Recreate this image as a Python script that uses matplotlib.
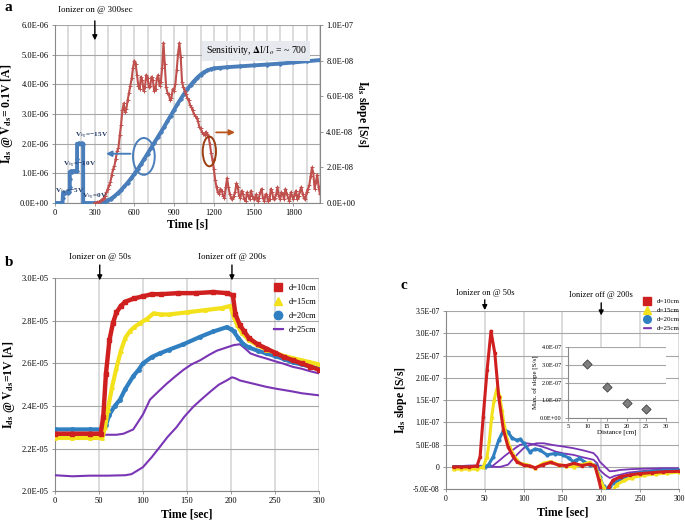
import matplotlib
matplotlib.use("Agg")
import matplotlib.pyplot as plt
from matplotlib.patches import Ellipse
from matplotlib.lines import Line2D
from matplotlib.ticker import FuncFormatter, MultipleLocator
import matplotlib.transforms as mtransforms

plt.rcParams['font.family'] = ['Liberation Serif', 'DejaVu Serif']
plt.rcParams['mathtext.fontset'] = 'stix'

# ---------------- panel a data ----------------
a_blue_t = [0, 10, 20, 30, 40, 50, 58, 60, 62, 70, 80, 90, 100, 110, 113, 113, 113, 120, 130, 140, 150, 160, 168, 168, 168, 175,
            185, 195, 205, 214, 214, 230, 260, 300, 325, 350, 375, 400, 425, 450, 475, 500, 525, 550, 575, 600, 625, 650,
            675, 700, 725, 750, 775, 800, 825, 850, 875, 900, 925, 950, 975, 1000, 1025, 1050, 1075, 1100, 1125, 1150,
            1175, 1200, 1250, 1300, 1400, 1500, 1600, 1700, 1800, 1900, 2000]
a_blue = [0.0, 0.0, 0.0, 0.0, 0.0, 0.0, 0.0, 0.18, 0.33, 0.35, 0.34, 0.36, 0.35, 0.36, 0.55, 0.8, 1.05, 1.07, 1.06, 1.08, 1.07,
          1.08, 1.08, 1.5, 2.0, 2.0, 2.01, 2.0, 2.01, 2.0, 0.0, 0.0, 0.0, 0.0, 0.005, 0.02, 0.05, 0.09, 0.15, 0.23, 0.33, 0.44,
          0.56, 0.69, 0.83, 0.98, 1.14, 1.31, 1.49, 1.67, 1.85, 2.03, 2.21, 2.39, 2.57, 2.76, 2.95, 3.14, 3.33, 3.51, 3.68,
          3.84, 3.98, 4.11, 4.23, 4.33, 4.41, 4.47, 4.51, 4.54, 4.56, 4.58, 4.61, 4.64, 4.67, 4.70, 4.74, 4.78, 4.82]  # x1e-6 A

a_red_t = list(range(300, 2001, 10))
a_red = [0.0, 0.02, 0.05, 0.05, 0.1, 0.15, 0.2, 0.3, 0.4, 0.6,
         0.8, 1.0, 1.2, 1.6, 1.9, 2.1, 2.5, 2.9, 3.1, 3.8,
         4.4, 5.2, 5.6, 5.1, 5.3, 5.8, 6.2, 6.6, 7.0, 7.6,
         8.0, 7.8, 7.2, 6.6, 6.4, 7.1, 6.9, 6.3, 6.5, 7.2,
         7.0, 6.5, 6.6, 7.1, 6.9, 6.3, 6.4, 7.0, 7.2, 6.6,
         6.8, 7.6, 9.0, 7.8, 6.5, 6.2, 6.1, 5.8, 5.9, 6.4,
         6.3, 6.7, 7.5, 8.4, 9.0, 8.2, 6.8, 6.5, 6.3, 6.1,
         5.9, 5.8, 5.5, 5.4, 5.2, 5.0, 4.9, 4.8, 4.6, 4.3,
         4.2, 4.0, 3.9, 3.8, 4.0, 3.9, 3.7, 3.3, 2.8, 2.4,
         1.9, 1.3, 0.9, 0.6, 0.5, 0.8, 0.7, 0.4, 0.3, 0.9,
         1.4, 0.9, 0.5, 0.3, 0.2, 0.4, 0.6, 1.1, 0.9, 0.4,
         0.3, 0.7, 0.5, 0.2, 0.1, 0.6, 0.4, 0.2, 0.7, 0.4,
         0.2, 0.3, 0.5, 0.1, 0.3, 0.6, 0.8, 0.3, 0.1, 0.5,
         0.4, 0.1, 0.2, 0.8, 0.6, 0.2, 0.3, 0.5, 0.9, 0.4,
         0.2, 0.6, 0.5, 0.2, 0.8, 0.5, 0.3, 0.1, 0.6, 0.4,
         0.2, 0.5, 0.7, 0.2, 0.4, 0.7, 0.9, 0.5, 0.3, 0.2,
         0.6, 0.8, 1.0, 1.5, 2.0, 1.7, 0.8, 1.2, 1.6, 0.9,
         0.5]  # x1e-8 S/s

# ---------------- panel b data ----------------
labels = ["d=10cm", "d=15cm", "d=20cm", "d=25cm"]
colors = ["#d01f1f", "#f3e11c", "#2f7fc1", "#7a35b5"]

b_red_t = [0, 20, 40, 52, 55, 58, 62, 66, 70, 75, 80, 90, 100, 110, 120, 140, 160, 180, 195, 202, 205, 210, 215, 220,
           230, 240, 250, 260, 270, 280, 290, 300]
b_red = [2.27, 2.27, 2.27, 2.27, 2.35, 2.55, 2.71, 2.79, 2.84, 2.87, 2.89, 2.905, 2.915, 2.925, 2.925, 2.93, 2.93,
         2.935, 2.93, 2.92, 2.83, 2.78, 2.75, 2.72, 2.69, 2.67, 2.65, 2.63, 2.615, 2.60, 2.585, 2.57]
b_yel_t = [0, 20, 40, 54, 57, 60, 65, 70, 75, 80, 85, 90, 97, 105, 112, 120, 130, 150, 170, 190, 199, 203, 207, 212,
           220, 230, 240, 250, 260, 270, 280, 290, 300]
b_yel = [2.25, 2.25, 2.25, 2.25, 2.3, 2.38, 2.49, 2.58, 2.66, 2.72, 2.75, 2.77, 2.79, 2.81, 2.835, 2.83, 2.83, 2.84,
         2.85, 2.86, 2.87, 2.82, 2.78, 2.745, 2.71, 2.685, 2.665, 2.65, 2.635, 2.625, 2.615, 2.605, 2.595]
b_blu_t = [0, 20, 40, 54, 58, 62, 68, 74, 80, 89, 95, 100, 110, 119, 130, 146, 165, 180, 195, 200, 203, 208, 214, 220,
           230, 240, 250, 260, 270, 280, 290, 300]
b_blu = [2.29, 2.29, 2.29, 2.29, 2.31, 2.36, 2.40, 2.43, 2.48, 2.54, 2.57, 2.60, 2.63, 2.647, 2.665, 2.69, 2.725,
         2.75, 2.77, 2.76, 2.75, 2.72, 2.69, 2.675, 2.66, 2.647, 2.635, 2.62, 2.605, 2.595, 2.585, 2.575]
b_pur1_t = [0, 20, 40, 55, 70, 78, 89, 100, 108, 118, 127, 137, 146, 155, 165, 175, 184, 195, 203, 210, 216, 222, 230,
            240, 250, 260, 270, 280, 290, 300]
b_pur1 = [2.26, 2.26, 2.26, 2.265, 2.265, 2.27, 2.29, 2.36, 2.43, 2.47, 2.505, 2.54, 2.57, 2.595, 2.615, 2.64, 2.66,
          2.675, 2.686, 2.69, 2.67, 2.647, 2.635, 2.623, 2.61, 2.598, 2.584, 2.575, 2.563, 2.553]
b_pur2_t = [0, 20, 40, 60, 80, 87, 95, 100, 110, 119, 128, 138, 147, 157, 166, 176, 186, 195, 201, 205, 210, 220, 230,
            240, 250, 260, 270, 280, 290, 300]
b_pur2 = [2.075, 2.07, 2.073, 2.073, 2.075, 2.08, 2.1, 2.113, 2.16, 2.207, 2.255, 2.30, 2.35, 2.396, 2.43, 2.466,
          2.50, 2.52, 2.535, 2.53, 2.52, 2.51, 2.50, 2.49, 2.482, 2.475, 2.468, 2.46, 2.455, 2.45]

# ---------------- panel c data ----------------
c_red_t = [10, 20, 30, 40, 44, 48, 53, 58, 63, 68, 74, 80, 86, 91, 100, 108, 115, 125, 135, 145, 155, 165, 175, 185,
           192, 197, 201, 205, 210, 215, 225, 237, 250, 265, 280, 300]
c_red = [0.0, 0.0, 0.0, 0.02, 0.23, 1.13, 2.17, 3.05, 2.55, 1.57, 0.83, 0.45, 0.25, 0.12, 0.04, 0.02, -0.02, 0.05, 0.1,
         0.04, 0.03, 0.08, 0.03, 0.06, 0.02, -0.3, -0.6, -0.65, -0.45, -0.3, -0.22, -0.18, -0.15, -0.13, -0.11, -0.1]
c_yel_t = [10, 20, 30, 40, 48, 53, 56, 59, 62, 66, 69, 72, 75, 78, 82, 87, 95, 105, 115, 125, 135, 145, 155, 165, 175,
           185, 192, 197, 203, 208, 213, 220, 230, 240, 255, 270, 285, 300]
c_yel = [-0.05, -0.05, -0.05, -0.05, 0.0, 0.23, 0.6, 1.13, 1.5, 1.78, 1.6, 1.28, 0.95, 0.68, 0.45, 0.27, 0.08, 0.05,
         -0.03, 0.08, 0.12, 0.05, 0.02, 0.0, 0.05, 0.1, 0.02, -0.2, -0.45, -0.62, -0.6, -0.4, -0.3, -0.24, -0.19, -0.16,
         -0.14, -0.12]
c_blu_t = [10, 20, 30, 40, 50, 55, 61, 68, 75, 80, 85, 91, 96, 100, 108, 115, 121, 130, 140, 151, 158, 164, 168, 172,
           178, 185, 192, 198, 203, 207, 211, 215, 225, 237, 250, 265, 280, 300]
c_blu = [0.0, 0.0, 0.0, 0.0, 0.0, 0.05, 0.23, 0.6, 0.85, 0.78, 0.65, 0.6, 0.62, 0.53, 0.34, 0.4, 0.38, 0.27, 0.3, 0.27,
         0.2, 0.12, 0.15, 0.19, 0.12, 0.04, 0.04, -0.22, -0.44, -0.5, -0.42, -0.37, -0.28, -0.18, -0.13, -0.1, -0.08,
         -0.07]
c_pur1_t = [10, 20, 30, 40, 50, 60, 70, 76, 83, 90, 95, 104, 112, 121, 130, 142, 152, 164, 175, 185, 190, 195, 198, 205,
            211, 218, 224, 235, 250, 270, 300]
c_pur1 = [0.02, 0.02, 0.03, 0.03, 0.02, 0.02, 0.16, 0.25, 0.34, 0.43, 0.49, 0.53, 0.51, 0.47, 0.42, 0.34, 0.3, 0.27,
          0.22, 0.18, 0.16, 0.08, -0.07, -0.18, -0.25, -0.2, -0.18, -0.13, -0.1, -0.07, -0.05]
c_pur2_t = [10, 20, 30, 40, 50, 60, 70, 80, 87, 93, 100, 108, 117, 126, 138, 150, 164, 177, 190, 195, 198, 205, 211,
            218, 224, 240, 260, 280, 300]
c_pur2 = [0.0, 0.0, 0.0, 0.0, 0.0, 0.0, 0.0, 0.05, 0.19, 0.3, 0.42, 0.49, 0.53, 0.53, 0.49, 0.46, 0.42, 0.37, 0.31,
          0.22, 0.12, 0.0, -0.1, -0.09, -0.07, -0.05, -0.04, -0.03, -0.03]

inset_dist = [10, 15, 20, 25]
inset_max = [3.05, 1.75, 0.85, 0.52]  # x1e-7

# ---------------- helpers ----------------
sci = FuncFormatter(lambda v, p: f"{v:.1E}")
sci_c = FuncFormatter(lambda v, p: "0" if abs(v) < 1e-12 else f"{v:.1E}")
GRID_H = "#a6a6a6"
GRID_V = "#dcdcdc"


def style_axes(ax, fs=6):
    for s in ["top", "right"]:
        ax.spines[s].set_visible(False)
    for s in ["left", "bottom"]:
        ax.spines[s].set_color("#888888")
        ax.spines[s].set_linewidth(0.8)
    ax.tick_params(labelsize=fs, length=2.5, width=0.6, color="#888888", pad=2)
    ax.grid(True, axis="y", color=GRID_H, lw=0.8)
    ax.grid(True, axis="x", which="both", color=GRID_V, lw=1.4)
    ax.set_axisbelow(True)


def ionizer(ax, x, text, ty, y0, y1, fs=6.5):
    tr = mtransforms.blended_transform_factory(ax.transData, ax.transAxes)
    ax.text(x, ty, text, transform=tr, ha="center", va="center", fontsize=fs)
    ax.annotate("", xy=(x, y1), xytext=(x, y0), xycoords=tr, textcoords=tr,
                arrowprops=dict(arrowstyle="-|>", color="k", lw=1.0, mutation_scale=7), annotation_clip=False)


fig = plt.figure(figsize=(6.85, 5.22), dpi=100)

# ================= panel a =================
ax1 = fig.add_axes([0.080, 0.611, 0.387, 0.341])
style_axes(ax1)
blue_a = "#4a7ebb"
red_a = "#c0504d"
ax1.plot(a_blue_t, [v * 1e-6 for v in a_blue], color=blue_a, lw=2.8, marker="D", ms=1.8, zorder=3)
ax1.set_xlim(0, 2000)
ax1.set_ylim(0, 6e-6)
ax1.xaxis.set_major_locator(MultipleLocator(300))
ax1.xaxis.set_minor_locator(MultipleLocator(100))
ax1.tick_params(axis="x", which="minor", length=0)
ax1.yaxis.set_major_locator(MultipleLocator(1e-6))
ax1.yaxis.set_major_formatter(sci)
ax1.set_xlabel("Time [s]", fontsize=8.5, fontweight="bold", labelpad=1)
ax1.set_ylabel(r"$\mathbf{I_{ds}}$ @ $\mathbf{V_{ds}}$= 0.1V [A]", fontsize=8.5, fontweight="bold", labelpad=3)

ax2 = ax1.twinx()
ax2.plot(a_red_t, [v * 1e-8 for v in a_red], color=red_a, lw=1.5, marker="+", ms=2.8, mew=0.7, zorder=2)
ax2.set_ylim(0, 1e-7)
ax2.yaxis.set_major_locator(MultipleLocator(2e-8))
ax2.yaxis.set_major_formatter(sci)
for s in ["top", "left", "bottom"]:
    ax2.spines[s].set_visible(False)
ax2.spines["right"].set_color("#888888")
ax2.spines["right"].set_linewidth(0.8)
ax2.tick_params(labelsize=6, length=2.5, width=0.6, color="#888888", pad=2)
ax2.set_ylabel(r"$\mathbf{I_{ds}}$ slope [S/s]", fontsize=8.5, fontweight="bold", rotation=270, labelpad=11)

ax2.add_patch(Ellipse((672, 2.62e-8), 164, 2.07e-8, fill=False, edgecolor=blue_a, lw=1.4, zorder=5))
ax2.annotate("", xy=(365, 2.77e-8), xytext=(592, 2.77e-8),
             arrowprops=dict(arrowstyle="-|>", color=blue_a, lw=1.4, mutation_scale=8), zorder=5)
ax2.add_patch(Ellipse((1166, 2.9e-8), 100, 1.67e-8, fill=False, edgecolor="#9c3d12", lw=1.4, zorder=5))
ax2.annotate("", xy=(1380, 3.97e-8), xytext=(1196, 3.97e-8),
             arrowprops=dict(arrowstyle="-|>", color="#b8541c", lw=1.3, mutation_scale=8), zorder=5)
ax2.text(1520, 8.55e-8, r"Sensitivity, $\mathbf{\Delta}$I/I$_o$ = ~ 700", ha="center", va="center", fontsize=7,
         bbox=dict(facecolor="#e6eaef", edgecolor="none", pad=2.5), zorder=6)
vbg_kw = dict(fontsize=5.2, fontweight="bold", color="#1f3864", va="center", ha="left", zorder=6)
ax2.text(150, 3.75e-8, "V$_{bg}$=\u221215V", **vbg_kw)
ax2.text(62, 2.15e-8, "V$_{bg}$=\u221210V", **vbg_kw)
ax2.text(5, 0.62e-8, "V$_{bg}$=\u22125V", **vbg_kw)
ax2.text(208, 0.33e-8, "V$_{bg}$=0V", **vbg_kw)
ionizer(ax1, 302, "Ionizer on @ 300sec", 1.084, 1.039, 0.899)

fig.text(0.007, 0.985, "a", fontsize=11, fontweight="bold", va="center", ha="left")

# ================= panel b =================
axb = fig.add_axes([0.080, 0.059, 0.386, 0.408])
style_axes(axb)
axb.plot(b_pur2_t, [v * 1e-5 for v in b_pur2], color=colors[3], lw=1.5, zorder=3)
axb.plot(b_pur1_t, [v * 1e-5 for v in b_pur1], color=colors[3], lw=1.5, zorder=3)
axb.plot(b_blu_t, [v * 1e-5 for v in b_blu], color=colors[2], lw=3.0, marker="o", ms=2.5, zorder=4)
axb.plot(b_yel_t, [v * 1e-5 for v in b_yel], color=colors[1], lw=3.0, marker="^", ms=2.5, zorder=5)
axb.plot(b_red_t, [v * 1e-5 for v in b_red], color=colors[0], lw=3.2, marker="s", ms=2.5, zorder=6)
axb.set_xlim(0, 300)
axb.set_ylim(2.0e-5, 3.0e-5)
axb.xaxis.set_major_locator(MultipleLocator(50))
axb.yaxis.set_major_locator(MultipleLocator(0.2e-5))
axb.yaxis.set_major_formatter(sci)
axb.set_xlabel("Time [sec]", fontsize=8.5, fontweight="bold", labelpad=2)
axb.set_ylabel(r"$\mathbf{I_{ds}}$ @ $\mathbf{V_{ds}}$=1V [A]", fontsize=8.5, fontweight="bold", labelpad=3)
ionizer(axb, 51, "Ionizer on @ 50s", 1.099, 1.075, 0.977)
ionizer(axb, 201, "Ionizer off @ 200s", 1.099, 1.075, 0.977)
fig.text(0.007, 0.497, "b", fontsize=11, fontweight="bold", va="center", ha="left")

handles = [Line2D([], [], color=colors[0], marker="s", ms=6, ls="none"),
           Line2D([], [], color=colors[1], marker="^", ms=6, ls="none"),
           Line2D([], [], color=colors[2], marker="o", ms=6, ls="none"),
           Line2D([], [], color=colors[3], lw=1.5, marker="_", ms=6)]
axb.legend(handles, labels, loc="upper right", bbox_to_anchor=(1.02, 1.01), frameon=False, fontsize=6,
           handlelength=1.0, labelspacing=0.75, handletextpad=0.8)

# ================= panel c =================
axc = fig.add_axes([0.651, 0.063, 0.340, 0.341])
style_axes(axc, fs=5.5)
axc.plot(c_pur2_t, [v * 1e-7 for v in c_pur2], color=colors[3], lw=1.3, zorder=3)
axc.plot(c_pur1_t, [v * 1e-7 for v in c_pur1], color=colors[3], lw=1.3, zorder=3)
axc.plot(c_blu_t, [v * 1e-7 for v in c_blu], color=colors[2], lw=2.2, marker="o", ms=2, zorder=4)
axc.plot(c_yel_t, [v * 1e-7 for v in c_yel], color=colors[1], lw=2.2, marker="^", ms=2, zorder=5)
axc.plot(c_red_t, [v * 1e-7 for v in c_red], color=colors[0], lw=2.2, marker="s", ms=2, zorder=6)
axc.set_xlim(0, 300)
axc.set_ylim(-5e-8, 3.5e-7)
axc.xaxis.set_major_locator(MultipleLocator(50))
axc.yaxis.set_major_locator(MultipleLocator(5e-8))
axc.yaxis.set_major_formatter(sci_c)
axc.set_xlabel("Time [sec]", fontsize=8.5, fontweight="bold", labelpad=2)
axc.set_ylabel(r"$\mathbf{I_{ds}}$ slope [S/s]", fontsize=8.5, fontweight="bold", labelpad=3)
ionizer(axc, 50, "Ionizer on @ 50s", 1.10, 1.079, 0.99, fs=6)
ionizer(axc, 200, "Ionizer off @ 200s", 1.09, 1.062, 0.96, fs=6)
fig.text(0.585, 0.454, "c", fontsize=11, fontweight="bold", va="center", ha="left")

handles_c = [Line2D([], [], color=colors[0], marker="s", ms=5.5, ls="none"),
             Line2D([], [], color=colors[1], marker="^", ms=5.5, ls="none"),
             Line2D([], [], color=colors[2], marker="o", ms=5.5, ls="none"),
             Line2D([], [], color=colors[3], lw=1.2, marker="_", ms=5.5)]
fig.legend(handles_c, labels, loc="upper right", bbox_to_anchor=(0.999, 0.438), frameon=False, fontsize=5,
           handlelength=1.0, labelspacing=0.45, handletextpad=0.8, borderpad=0.2)

# inset
axi = fig.add_axes([0.829, 0.199, 0.143, 0.136])
style_axes(axi, fs=4.5)
axi.grid(False, axis="x", which="both")
axi.scatter(inset_dist, [v * 1e-7 for v in inset_max], marker="D", s=22, color="#7f7f7f", edgecolors="#404040",
            linewidths=0.6, zorder=3)
axi.set_xlim(5, 30)
axi.set_ylim(0, 4e-7)
axi.xaxis.set_major_locator(MultipleLocator(5))
axi.yaxis.set_major_locator(MultipleLocator(1e-7))
axi.yaxis.set_major_formatter(sci)
axi.set_xlabel("Distance [cm]", fontsize=5, labelpad=0)
axi.set_ylabel("Max. of slope [S/s]", fontsize=5, labelpad=1)
axi.patch.set_facecolor("white")

fig.savefig("out.png", dpi=100)
